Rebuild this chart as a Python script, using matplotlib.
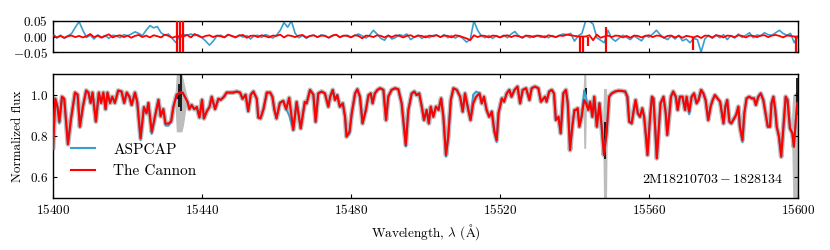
import numpy as np
import matplotlib
matplotlib.use('Agg')
import matplotlib.pyplot as plt
from matplotlib.ticker import FuncFormatter

plt.rcParams.update({
    'font.family': ['cmr10', 'DejaVu Serif'],
    'mathtext.fontset': 'cm',
    'axes.formatter.use_mathtext': True,
    'axes.unicode_minus': True,
    'xtick.direction': 'in', 'ytick.direction': 'in',
    'xtick.top': True, 'ytick.right': True,
    'xtick.major.size': 3.0, 'ytick.major.size': 3.0,
    'xtick.major.width': 0.8, 'ytick.major.width': 0.8,
    'axes.linewidth': 1.0,
    'font.size': 9.5,
})

# ---------------- data ----------------
cannon_wave = [
    15400.0, 15400.6, 15401.2, 15401.7, 15402.4, 15403.0, 15404.0, 15404.8, 15405.9, 15406.6,
    15407.2, 15408.0, 15408.9, 15409.5, 15410.1, 15410.6, 15411.5, 15412.3, 15412.9, 15413.5,
    15414.1, 15414.6, 15415.3, 15415.9, 15416.6, 15417.5, 15418.4, 15419.1, 15419.8, 15420.5,
    15421.1, 15422.0, 15422.6, 15423.5, 15424.4, 15425.1, 15425.6, 15426.5, 15427.1, 15428.3,
    15428.9, 15429.6, 15430.2, 15431.0, 15431.7, 15432.3, 15433.2, 15434.1, 15434.8, 15435.4,
    15436.1, 15436.6, 15437.2, 15437.9, 15438.6, 15439.3, 15440.0, 15440.5, 15441.3, 15442.0,
    15442.6, 15443.5, 15444.4, 15445.0, 15445.9, 15446.6, 15447.5, 15448.4, 15449.3, 15450.2,
    15450.9, 15451.7, 15452.4, 15453.1, 15453.8, 15454.7, 15455.1, 15455.7, 15456.5, 15457.4,
    15458.3, 15458.9, 15459.4, 15460.0, 15460.9,
    15461.8, 15462.6, 15463.4, 15464.5, 15465.4, 15466.5, 15467.6, 15468.1, 15469.0, 15469.9,
    15470.5, 15471.2, 15472.1, 15473.0, 15473.9, 15474.4, 15475.1, 15475.7, 15476.3, 15477.0,
    15477.8, 15478.4, 15478.8, 15479.6, 15480.2, 15481.1, 15481.7, 15482.4, 15483.1, 15484.0,
    15484.7, 15485.3, 15485.8, 15486.4, 15487.1, 15487.8, 15488.7, 15489.4, 15490.0, 15490.9,
    15491.8, 15492.7, 15493.6, 15494.7, 15495.4, 15496.3, 15497.0, 15497.6, 15498.3, 15499.0,
    15499.6, 15500.3, 15500.9, 15501.4, 15502.1, 15502.8, 15503.5, 15504.2, 15504.8, 15505.5,
    15506.1, 15506.8, 15507.5, 15508.4, 15509.3, 15510.0, 15510.6, 15511.5, 15512.1, 15512.8,
    15513.6, 15514.5, 15515.1, 15515.7, 15516.4, 15517.1, 15517.8, 15518.5, 15519.1, 15519.6,
    15520.5, 15521.1, 15521.8, 15522.5, 15523.1, 15523.9, 15524.7, 15525.4, 15526.1, 15527.0,
    15527.9, 15528.5, 15529.4, 15530.3, 15531.0,
    15532.1, 15532.5, 15533.2, 15533.9, 15534.5, 15535.0, 15535.7, 15536.3, 15537.0, 15537.7,
    15538.2, 15538.8, 15539.4, 15540.0, 15540.4, 15540.85, 15541.3, 15541.9, 15542.6, 15543.1,
    15543.7, 15544.2, 15544.8, 15545.3, 15546.0, 15546.7, 15547.3, 15547.9, 15548.6, 15549.3,
    15550.0, 15550.9, 15551.8, 15552.7, 15553.6, 15554.2, 15554.7, 15555.35, 15556.0, 15556.4,
    15557.0, 15557.6, 15558.2, 15558.7, 15559.2, 15559.6, 15560.3, 15560.8, 15561.2, 15561.7,
    15562.1, 15562.6, 15563.1, 15563.9, 15564.5, 15564.9, 15565.5, 15565.9, 15566.5, 15567.2,
    15567.7, 15568.3, 15569.0, 15569.7, 15570.1, 15570.8, 15571.45, 15572.1, 15572.8, 15573.3,
    15574.0, 15574.6, 15575.2, 15575.9, 15576.55, 15577.1, 15577.7, 15578.4, 15579.1, 15580.0,
    15580.5, 15581.0, 15581.6, 15582.1, 15582.6, 15583.4, 15584.0, 15584.4, 15585.1, 15585.6,
    15586.2, 15586.9, 15587.6, 15588.2, 15588.7, 15589.35, 15590.0, 15590.7, 15591.3, 15591.9,
    15592.5, 15592.9, 15593.4, 15593.9, 15594.3, 15594.9, 15595.5, 15596.1, 15596.7, 15597.2,
    15597.85, 15598.5, 15598.9, 15599.5, 15599.8, 15600.0,
]
cannon_flux = [
    0.74, 0.98, 0.94, 0.87, 0.99, 0.98, 0.76, 0.88, 1.01, 1.00,
    0.845, 0.94, 1.02, 1.01, 0.96, 1.01, 0.87, 1.01, 0.96, 1.01,
    0.93, 1.01, 0.96, 0.99, 0.96, 1.02, 1.015, 0.96, 1.01, 0.99,
    0.95, 1.01, 0.965, 0.79, 0.94, 0.91, 0.96, 0.82, 0.87, 0.975,
    0.895, 0.93, 0.86, 0.86, 0.87, 0.94, 1.00, 1.01, 1.01, 0.99,
    0.965, 0.93, 0.95, 0.93, 0.94, 0.89, 0.975, 0.885, 0.92, 0.94,
    0.99, 0.93, 0.98, 0.975, 0.99, 1.01, 1.01, 1.01, 1.015, 1.01,
    0.98, 1.00, 0.92, 1.00, 1.015, 0.98, 0.89, 0.885, 0.93, 1.01,
    1.01, 0.99, 0.93, 0.885, 0.96,
    0.97, 0.93, 0.985, 0.83, 0.965, 0.837, 0.965, 0.958, 1.023, 1.00,
    0.869, 1.006, 1.015, 1.006, 0.942, 0.99, 1.023, 0.974, 0.998, 0.942,
    0.958, 0.893, 0.797, 0.821, 0.91, 1.006, 1.026, 0.99, 0.861, 0.926,
    0.998, 1.006, 0.958, 1.006, 1.023, 1.031, 1.023, 0.877, 0.99, 1.023,
    1.031, 1.026, 0.958, 0.756, 0.926, 1.006, 1.015, 0.998, 1.006, 0.942,
    0.877, 0.926, 0.861, 0.942, 0.893, 0.942, 0.926, 0.982, 0.893, 0.708,
    0.797, 0.974, 1.031, 1.023, 0.99, 0.918, 1.006, 0.926, 0.877, 0.958,
    0.99, 1.006, 0.958, 0.99, 0.926, 0.893, 0.918, 0.821, 0.78, 0.91,
    0.982, 0.966, 1.006, 1.023, 0.99, 1.023, 1.039, 0.958, 1.023, 1.031,
    0.974, 1.031, 1.039, 1.031, 0.966,
    0.99, 0.966, 1.015, 1.023, 1.006, 0.877, 0.893, 0.813, 1.006, 1.023,
    0.958, 0.732, 0.845, 0.926, 0.926, 0.934, 0.845, 0.893, 0.974, 0.958,
    0.926, 0.966, 0.893, 0.99, 0.845, 0.958, 0.845, 0.708, 0.813, 0.99,
    1.006, 1.015, 1.019, 1.018, 1.015, 0.99, 0.869, 0.861, 0.934, 0.974,
    0.91, 0.893, 0.934, 0.893, 0.797, 0.708, 0.893, 0.99, 0.982, 0.829,
    0.692, 0.829, 0.958, 0.99, 0.91, 0.805, 0.91, 0.99, 1.015, 0.99,
    0.926, 0.99, 0.99, 0.926, 0.99, 0.918, 0.99, 1.006, 0.958, 0.974,
    1.023, 1.006, 0.974, 0.877, 0.942, 0.974, 0.998, 0.982, 0.966, 0.861,
    0.942, 0.974, 0.869, 0.861, 0.877, 0.902, 0.942, 0.845, 0.78, 0.91,
    0.982, 0.99, 0.982, 0.982, 0.95, 0.99, 1.006, 0.974, 0.91, 0.845,
    0.845, 0.958, 0.99, 0.926, 0.845, 0.797, 0.70, 0.845, 0.99, 0.974,
    0.837, 0.813, 0.748, 0.893, 0.958, 0.96,
]

# ASPCAP model: same as The Cannon except where it visibly differs
aspcap_fix_wave = [15401.7, 15423.5, 15426.5, 15430.2, 15431.0, 15463.4, 15479.6, 15494.7,
                   15505.5, 15512.8, 15513.6, 15519.1, 15542.6, 15543.1, 15570.8, 15585.1]
aspcap_fix_flux = [0.86, 0.78, 0.81, 0.85, 0.85, 0.90, 0.81, 0.75,
                   0.70, 1.00, 1.015, 0.77, 1.02, 0.99, 0.905, 0.77]

# masked / noisy data pixels (grey error regions)
bad_regions = [
    ([15432.8, 15433.1, 15434.6, 15435.0, 15435.9], [0.93, 0.82, 0.82, 0.85, 0.96], [1.02, 1.10, 1.10, 1.07, 1.00]),
    ([15542.3, 15542.5, 15543.0, 15543.2], [0.95, 0.74, 0.74, 0.93], [1.02, 1.10, 1.10, 1.00]),
    ([15547.6, 15547.8, 15548.6, 15548.8], [0.75, 0.50, 0.50, 0.80], [0.90, 1.03, 1.03, 0.90]),
    ([15598.3, 15598.6, 15599.9, 15600.0], [0.80, 0.50, 0.50, 0.50], [0.90, 1.00, 1.02, 1.02]),
]
data_spike_wave = [15433.5, 15433.8, 15434.4, 15543.0, 15548.3, 15599.7]
data_spike_lo = [0.98, 0.94, 0.92, 1.00, 0.69, 0.90]
data_spike_hi = [1.00, 1.05, 1.10, 1.03, 0.87, 1.08]

# residuals (data - model), sampled every 1 A from 15400 to 15600
resid_wave = np.arange(15400, 15601, 1.0)
aspcap_resid = [
    0.008, -0.005, 0.004, -0.006, 0.002, 0.010, 0.030, 0.048, 0.020, -0.003,
    0.004, -0.008, 0.005, -0.002, 0.003, -0.006, 0.004, 0.002, -0.004, 0.006,
    0.002, 0.008, 0.015, 0.010, 0.003, 0.020, 0.035, 0.028, 0.032, 0.012,
    0.004, 0.008, -0.006, -0.020, 0.005, 0.006, 0.004, 0.008, 0.003, 0.005,
    -0.004, -0.015, -0.028, -0.015, 0.002, 0.004, -0.002, 0.006, 0.001, -0.004,
    0.005, -0.002, 0.003, -0.008, 0.002, 0.004, -0.003, 0.006, 0.002, -0.005,
    0.004, 0.020, 0.045, 0.030, 0.050, 0.010, -0.004, 0.003, -0.006, 0.002,
    0.004, -0.002, 0.005, 0.003, -0.004, 0.002, 0.006, -0.003, 0.002, 0.004,
    -0.002, 0.003, 0.008, 0.002, -0.005, 0.004, 0.020, 0.008, -0.006, -0.012,
    0.004, -0.008, -0.003, 0.006, 0.002, 0.008, -0.010, -0.002, 0.004, -0.006,
    0.002, -0.004, 0.003, 0.005, -0.002, 0.006, -0.004, 0.003, -0.005, 0.002,
    -0.006, -0.018, -0.010, 0.050, 0.020, 0.002, -0.004, 0.003, -0.006, 0.002,
    -0.003, 0.004, -0.004, 0.008, 0.016, 0.002, -0.005, 0.003, -0.004, 0.002,
    0.003, -0.003, 0.002, -0.004, 0.003, -0.002, 0.004, 0.008, 0.006, 0.010,
    -0.015, 0.002, 0.010, 0.050, 0.050, 0.040, -0.004, -0.012, -0.020, 0.020,
    -0.006, -0.015, -0.005, 0.004, -0.003, -0.010, 0.002, -0.006, -0.014, 0.003,
    -0.002, 0.008, 0.020, 0.006, -0.004, -0.010, 0.002, -0.008, 0.004, -0.014,
    -0.008, -0.020, -0.006, -0.010, -0.050, -0.008, 0.004, -0.006, 0.005, -0.004,
    0.006, -0.010, 0.003, -0.005, 0.008, -0.003, 0.004, 0.012, -0.004, 0.005,
    0.002, 0.012, 0.006, 0.004, 0.012, 0.020, 0.010, 0.004, 0.010, -0.020,
    0.000,
]
cannon_resid = [
    0.004, -0.003, 0.002, -0.004, 0.001, 0.003, -0.002, 0.002, -0.003, 0.001,
    0.008, -0.002, 0.003, -0.004, 0.002, 0.007, -0.003, 0.002, 0.004, -0.002,
    0.003, -0.004, 0.002, 0.005, -0.002, 0.003, -0.003, 0.004, 0.001, -0.003,
    0.006, 0.002, -0.004, 0.000, 0.000, 0.000, 0.005, -0.003, 0.008, 0.002,
    -0.003, 0.002, 0.004, -0.002, 0.003, 0.001, -0.003, 0.006, 0.002, -0.002,
    0.003, 0.005, -0.004, 0.002, 0.003, -0.002, 0.004, 0.001, -0.003, 0.003,
    0.002, 0.006, -0.003, 0.004, 0.002, -0.002, 0.003, 0.005, -0.003, 0.002,
    0.004, -0.002, 0.003, 0.002, -0.004, 0.003, 0.006, -0.002, 0.003, 0.002,
    -0.003, 0.004, 0.002, -0.006, 0.003, 0.002, -0.002, 0.004, 0.002, -0.003,
    0.003, -0.002, 0.004, 0.002, -0.003, 0.002, 0.004, -0.002, 0.003, 0.002,
    -0.003, 0.003, 0.001, 0.004, -0.002, 0.003, 0.002, -0.003, 0.004, 0.002,
    -0.002, -0.006, -0.012, 0.004, -0.002, 0.003, 0.002, -0.003, 0.003, 0.002,
    -0.003, 0.002, 0.004, -0.002, 0.003, 0.001, -0.003, 0.003, 0.002, -0.002,
    0.003, 0.002, -0.003, 0.004, 0.001, -0.002, 0.003, 0.002, 0.006, 0.004,
    0.002, 0.000, 0.000, 0.000, 0.004, -0.012, 0.006, -0.004, 0.000, 0.003,
    -0.002, 0.003, 0.002, -0.003, 0.002, -0.004, 0.003, 0.002, -0.003, 0.002,
    0.004, -0.002, 0.003, 0.002, -0.004, 0.002, 0.003, -0.003, 0.002, -0.004,
    0.002, 0.000, -0.003, 0.002, -0.005, 0.003, 0.002, -0.003, 0.004, 0.002,
    -0.003, 0.003, 0.002, -0.002, 0.004, 0.002, -0.003, 0.003, 0.002, -0.002,
    0.003, 0.004, -0.002, 0.003, 0.005, 0.002, -0.003, 0.003, 0.002, 0.000,
    0.000,
]
cannon_spike_wave = [15433.4, 15434.1, 15435.0, 15541.6, 15542.2, 15543.5, 15548.4, 15571.8, 15599.6]
cannon_spike_lo = [-0.05, -0.05, -0.05, -0.05, -0.05, -0.03, -0.05, -0.045, -0.05]
cannon_spike_hi = [0.05, 0.05, 0.05, 0.0, 0.0, 0.0, 0.03, 0.0, 0.0]

xticks = [15400, 15440, 15480, 15520, 15560, 15600]
star_id = r'$\mathrm{2M18210703}-\mathrm{1828134}$'

# ---------------- colours ----------------
c_blue = '#3a9fd0'
c_red = '#ff0000'
c_grey = '#bdbdbd'

# ---------------- figure ----------------
fig = plt.figure(figsize=(8.3, 2.5), dpi=100)
ax_res = fig.add_axes([0.0639, 0.792, 0.8975, 0.124])
ax = fig.add_axes([0.0639, 0.208, 0.8975, 0.496])

cw = np.array(cannon_wave)
cf = np.array(cannon_flux)
af = cf.copy()
for w, f in zip(aspcap_fix_wave, aspcap_fix_flux):
    af[np.argmin(np.abs(cw - w))] = f

# residual panel
ax_res.plot(resid_wave, aspcap_resid, color=c_blue, lw=1.2, zorder=2)
ax_res.plot(resid_wave, cannon_resid, color=c_red, lw=1.3, zorder=3)
ax_res.vlines(cannon_spike_wave, cannon_spike_lo, cannon_spike_hi, color=c_red, lw=1.6, zorder=3)
ax_res.set_xlim(15400, 15600)
ax_res.set_ylim(-0.05, 0.05)
ax_res.set_yticks([-0.05, 0.0, 0.05])
ax_res.yaxis.set_major_formatter(FuncFormatter(lambda v, p: r'$%.2f$' % v))
ax_res.set_xticks(xticks)
ax_res.tick_params(labelbottom=False, labelsize=9.5)

# main panel
ax.plot(cw, cf, color=c_grey, lw=3.5, solid_capstyle='round', zorder=1)
for wv, lo, hi in bad_regions:
    ax.fill_between(wv, lo, hi, color=c_grey, lw=0, zorder=1)
ax.vlines(data_spike_wave, data_spike_lo, data_spike_hi, color='black', lw=1.2, zorder=2)
ax.plot(cw, af, color=c_blue, lw=1.5, zorder=3, label='ASPCAP')
ax.plot(cw, cf, color=c_red, lw=1.5, zorder=4, label='The Cannon')

ax.set_xlim(15400, 15600)
ax.set_ylim(0.5, 1.1)
ax.set_xticks(xticks)
ax.set_yticks([0.6, 0.8, 1.0])
ax.yaxis.set_major_formatter(FuncFormatter(lambda v, p: r'$%.1f$' % v))
ax.xaxis.set_major_formatter(FuncFormatter(lambda v, p: r'$%d$' % v))
ax.tick_params(labelsize=9.5)
ax.set_xlabel(r'Wavelength, $\lambda$ ($\mathrm{\AA}$)', fontsize=9.5, labelpad=4)
ax.set_ylabel('Normalized flux', fontsize=9.5, labelpad=4)

leg = ax.legend(loc='lower left', bbox_to_anchor=(0.005, 0.05), frameon=False, fontsize=11,
                handlelength=1.6, handletextpad=1.2, labelspacing=0.5)
ax.text(0.98, 0.1, star_id, transform=ax.transAxes, ha='right', va='bottom', fontsize=10)

fig.savefig('out.png', dpi=100)
